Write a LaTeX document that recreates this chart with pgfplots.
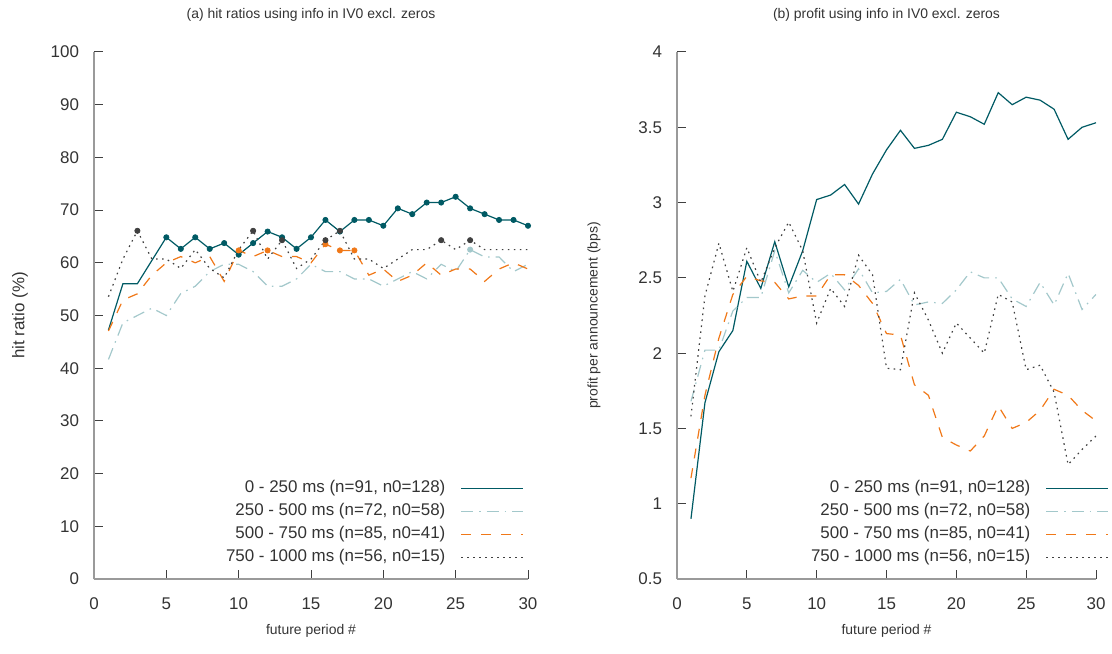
\documentclass[border=0pt]{standalone}
\usepackage{fontspec}
\setmainfont{Liberation Sans}
\usepackage{pgfplots}
\usepackage{pgfplotstable}
\pgfplotsset{compat=1.18}

\definecolor{c1}{HTML}{005A64}
\definecolor{c2}{HTML}{A3C8CB}
\definecolor{c3}{HTML}{F07818}
\definecolor{c4}{HTML}{404040}
\definecolor{txt}{HTML}{333333}
\definecolor{axgray}{HTML}{9A9A9A}

% hit ratio (%) per future period
\pgfplotstableread{
x  a      b      c      d
1  47.25  41.67  47.06  53.57
2  56.04  48.61  52.94  60.71
3  56.04  50.00  54.12  66.07
4  60.44  51.39  57.65  60.71
5  64.84  50.00  60.00  60.71
6  62.64  54.17  61.18  58.93
7  64.84  55.56  60.00  62.50
8  62.64  58.33  61.18  58.93
9  63.74  59.72  56.47  57.14
10 61.54  59.72  62.35  62.50
11 63.74  58.33  61.18  66.07
12 65.93  55.56  62.35  60.71
13 64.84  55.56  61.18  64.29
14 62.64  56.94  61.18  58.93
15 64.84  59.72  60.00  60.71
16 68.13  58.33  63.53  64.29
17 65.93  58.33  62.35  66.07
18 68.13  56.94  62.35  60.71
19 68.13  56.94  57.65  60.71
20 67.03  55.56  58.82  58.93
21 70.33  56.94  56.47  60.71
22 69.23  58.33  57.65  62.50
23 71.43  56.94  60.00  62.50
24 71.43  59.72  57.65  64.29
25 72.53  58.33  58.82  62.50
26 70.33  62.50  58.82  64.29
27 69.23  61.11  56.47  62.50
28 68.13  61.11  58.82  62.50
29 68.13  58.33  60.00  62.50
30 67.03  59.72  58.82  62.50
}\hitdata

% profit per announcement (bps)
\pgfplotstableread{
x  a     b     c     d
1  0.90  1.68  1.17  1.58
2  1.67  2.02  1.72  2.38
3  2.01  2.02  2.10  2.73
4  2.15  2.28  2.39  2.41
5  2.61  2.37  2.51  2.70
6  2.43  2.37  2.48  2.47
7  2.74  2.68  2.47  2.70
8  2.44  2.40  2.36  2.87
9  2.68  2.55  2.38  2.68
10 3.02  2.47  2.38  2.20
11 3.05  2.53  2.52  2.43
12 3.12  2.42  2.52  2.31
13 2.99  2.56  2.45  2.65
14 3.19  2.40  2.33  2.52
15 3.35  2.41  2.13  1.90
16 3.48  2.49  2.12  1.89
17 3.36  2.32  1.79  2.40
18 3.38  2.34  1.72  2.22
19 3.42  2.33  1.44  2.00
20 3.60  2.42  1.39  2.20
21 3.57  2.54  1.35  2.10
22 3.52  2.50  1.45  2.00
23 3.73  2.50  1.65  2.39
24 3.65  2.36  1.50  2.34
25 3.70  2.31  1.54  1.89
26 3.68  2.47  1.62  1.92
27 3.62  2.32  1.76  1.74
28 3.42  2.53  1.72  1.26
29 3.50  2.29  1.62  1.36
30 3.53  2.39  1.55  1.45
}\profitdata

\pgfplotsset{
  panel/.style={
    scale only axis, height=263.5bp,
    xmin=0, xmax=30, xtick={0,5,...,30},
    axis x line*=bottom, axis y line*=left,
    axis line style={axgray, line width=1bp, -},
    tick align=inside, major tick length=4.5bp,
    tick style={c4, line width=0.5bp},
    tick label style={font=\fontsize{8.5}{10}\selectfont, text=txt},
    /pgf/number format/assume math mode=true,
    xticklabel style={yshift=-6bp},
    yticklabel style={xshift=-4bp},
    every axis title/.style={font=\fontsize{7}{8.5}\selectfont, text=txt, at={(axis description cs:0.5,1.0636)}, anchor=base},
    xlabel={future period \#},
    every axis x label/.style={font=\fontsize{7}{8.5}\selectfont, text=txt, at={(axis description cs:0.5,-0.106)}, anchor=base},
    legend style={draw=none, fill=none, inner sep=0pt, font=\fontsize{8.5}{10}\selectfont, text=txt,
      anchor=south east, row sep=3.5bp, column sep=7.5bp,
      nodes={inner sep=0pt, text height=6.2bp, text depth=1.8bp}},
    legend cell align=right, legend plot pos=right,
    legend image code/.code={\draw[#1] (0bp,0bp) -- (31bp,0bp);},
  },
  s1/.style={c1, line width=0.6bp, solid},
  s2/.style={c2, line width=0.6bp, dash pattern=on 6bp off 3bp on 0.8bp off 3bp},
  s3/.style={c3, line width=0.6bp, dash pattern=on 5bp off 5bp},
  s4/.style={c4, line width=0.6bp, dash pattern=on 0.8bp off 2.2bp},
  dots/.style={only marks, mark=*, mark size=1.3bp, forget plot},
}

\begin{document}
\begin{tikzpicture}
\useasboundingbox (-47bp,-37.5bp) rectangle (509bp,289.5bp);

\begin{axis}[panel, width=217bp,
  ymin=0, ymax=100, ytick={0,10,...,100},
  title={(a) hit ratios using info in IV0 excl. zeros},
  ylabel={hit ratio (\%)},
  every axis y label/.style={font=\fontsize{8.5}{10}\selectfont, text=txt, at={(axis description cs:-0.1705,0.5)}, rotate=90, anchor=center},
  legend style={at={(axis description cs:1,0)}, xshift=-2bp, yshift=6.6bp},
]
\addplot[s1] table[x=x, y=a] {\hitdata};
\addlegendentry{0 - 250 ms (n=91, n0=128)}
\addplot[s2] table[x=x, y=b] {\hitdata};
\addlegendentry{250 - 500 ms (n=72, n0=58)}
\addplot[s3] table[x=x, y=c] {\hitdata};
\addlegendentry{500 - 750 ms (n=85, n0=41)}
\addplot[s4] table[x=x, y=d] {\hitdata};
\addlegendentry{750 - 1000 ms (n=56, n0=15)}
\addplot[dots, c1, mark indices={5,...,30}] table[x=x, y=a] {\hitdata};
\addplot[dots, c2, mark indices={26}] table[x=x, y=b] {\hitdata};
\addplot[dots, c3, mark indices={10,12,16,17,18}] table[x=x, y=c] {\hitdata};
\addplot[dots, c4, mark indices={3,11,13,16,17,24,26}] table[x=x, y=d] {\hitdata};
\end{axis}

\begin{axis}[panel, width=209.5bp, at={(291.5bp,0bp)}, anchor=south west,
  ymin=0.5, ymax=4, ytick={0.5,1,...,4},
  title={(b) profit using info in IV0 excl. zeros},
  ylabel={profit per announcement (bps)},
  every axis y label/.style={font=\fontsize{7}{8.5}\selectfont, text=txt, at={(axis description cs:-0.198,0.5)}, rotate=90, anchor=center},
  legend style={at={(axis description cs:1,0)}, xshift=6.5bp, yshift=6.6bp},
]
\addplot[s1] table[x=x, y=a] {\profitdata};
\addlegendentry{0 - 250 ms (n=91, n0=128)}
\addplot[s2] table[x=x, y=b] {\profitdata};
\addlegendentry{250 - 500 ms (n=72, n0=58)}
\addplot[s3] table[x=x, y=c] {\profitdata};
\addlegendentry{500 - 750 ms (n=85, n0=41)}
\addplot[s4] table[x=x, y=d] {\profitdata};
\addlegendentry{750 - 1000 ms (n=56, n0=15)}
\end{axis}
\end{tikzpicture}
\end{document}
